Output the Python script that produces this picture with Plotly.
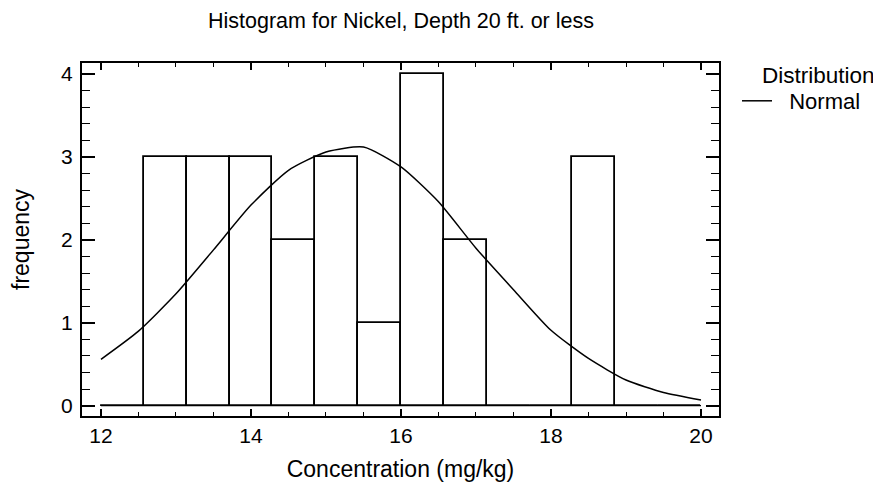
import plotly.graph_objects as go

# Histogram classes (14 classes from 12 to 20)
bin_edges = [12.0, 12.5714, 13.1429, 13.7143, 14.2857, 14.8571, 15.4286, 16.0,
             16.5714, 17.1429, 17.7143, 18.2857, 18.8571, 19.4286, 20.0]
frequencies = [0, 3, 3, 3, 2, 3, 1, 4, 2, 0, 0, 3, 0, 0]

# Fitted normal curve
curve_x = [12.0, 12.5, 13.0, 13.5, 14.0, 14.5, 15.0, 15.5, 16.0, 16.5,
           17.0, 17.5, 18.0, 18.5, 19.0, 19.5, 20.0]
curve_y = [0.56, 0.90, 1.35, 1.88, 2.42, 2.84, 3.06, 3.12, 2.88, 2.46,
           1.90, 1.40, 0.91, 0.57, 0.31, 0.16, 0.07]

x_ticks = [12, 14, 16, 18, 20]
y_ticks = [0, 1, 2, 3, 4]

title_text = "Histogram for Nickel, Depth 20 ft. or less"
x_title = "Concentration (mg/kg)"
y_title = "frequency"
legend_title = "Distribution"
curve_name = "Normal"

centers = [(bin_edges[i] + bin_edges[i + 1]) / 2 for i in range(len(frequencies))]
widths = [bin_edges[i + 1] - bin_edges[i] for i in range(len(frequencies))]

FONT = "Liberation Sans, Arial, sans-serif"
NBSP = "\u00a0"

# page body has an 8px margin: lay the figure out in the remaining area
OFF = 8
W, H = 881 - OFF, 487 - OFF
L, R, T, B = 82 - OFF, 881 - 719, 63 - OFF, 487 - 416
plot_w = W - L - R
plot_h = H - T - B

fig = go.Figure()

# baseline of the histogram (empty classes)
fig.add_trace(go.Scatter(
    x=[bin_edges[0], bin_edges[-1]], y=[0, 0], mode="lines",
    line=dict(color="black", width=1.3), showlegend=False, hoverinfo="skip"))

fig.add_trace(go.Bar(
    x=centers, y=frequencies, width=widths,
    marker=dict(color="rgba(255,255,255,0)", line=dict(color="black", width=1.8)),
    showlegend=False))

fig.add_trace(go.Scatter(
    x=curve_x, y=curve_y, mode="lines", name=NBSP * 2 + curve_name,
    line=dict(color="black", width=1.5, shape="spline", smoothing=0.6)))

axis_common = dict(
    showline=True, linecolor="black", linewidth=2, mirror="ticks",
    ticks="inside", tickcolor="black", tickwidth=1.5,
    showgrid=False, zeroline=False, automargin=False,
    tickfont=dict(family=FONT, size=21, color="black"),
)

fig.update_layout(
    width=W, height=H,
    margin=dict(l=L, r=R, t=T, b=B),
    paper_bgcolor="white", plot_bgcolor="white",
    font=dict(family=FONT, color="black"),
    title=dict(text=title_text, x=(401 - OFF) / W, xanchor="center",
               y=1 - (20 - OFF) / H, yanchor="middle",
               font=dict(family=FONT, size=21.5, color="black")),
    showlegend=True,
    legend=dict(
        font=dict(family=FONT, size=22, color="black"),
        x=1 + 18 / plot_w, xanchor="left", y=1 - 17 / plot_h, yanchor="top",
        bgcolor="rgba(0,0,0,0)", itemwidth=30,
    ),
    bargap=0,
    annotations=[dict(
        text=legend_title, xref="paper", yref="paper",
        x=1 + (760 - 719) / plot_w, xanchor="left",
        y=1 - (75 - 63) / plot_h, yanchor="middle",
        showarrow=False, font=dict(family=FONT, size=22.5, color="black"))],
)

fig.update_xaxes(
    **axis_common, range=[11.747, 20.24], tickvals=x_ticks, ticklen=7,
    minor=dict(dtick=0.5, tick0=12, ticks="inside", ticklen=4, tickcolor="black", tickwidth=1.2),
    title=dict(text=x_title, font=dict(family=FONT, size=23, color="black"), standoff=15),
)
fig.update_yaxes(
    **axis_common, range=[-0.124, 4.134], tickvals=y_ticks, ticklen=13,
    ticklabelstandoff=3,
    minor=dict(dtick=0.2, tick0=0, ticks="inside", ticklen=8, tickcolor="black", tickwidth=1.2),
    title=dict(text=y_title, font=dict(family=FONT, size=23, color="black"), standoff=27),
)

fig.write_html("out.html")
